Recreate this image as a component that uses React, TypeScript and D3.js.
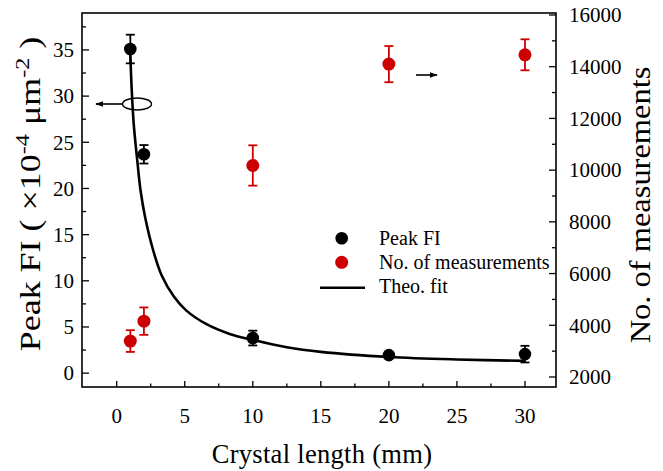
import React from "react";
import * as d3 from "d3";

const crystalLength = [1, 2, 10, 20, 30];
const peakFI = [35.1, 23.7, 3.8, 1.95, 2.06];
const peakFIErr = [1.55, 1.0, 0.8, 0.3, 0.9];
const measurements = [3390, 4160, 10180, 14100, 14460];
const measurementsErr = [420, 530, 780, 700, 600];
const fitX = [1, 1.1, 1.25, 1.5, 1.75, 2.1, 2.7, 3.3, 4.2, 5.1, 6.6, 8.3, 10, 12.5, 15, 20, 25, 30];
const fitY = [34.5, 30.8, 27, 23.2, 19.8, 16.8, 13.2, 10.6, 8.3, 6.8, 5.3, 4.25, 3.6, 2.8, 2.3, 1.75, 1.48, 1.33];
const xTicks = [0, 5, 10, 15, 20, 25, 30];
const yLeftTicks = [0, 5, 10, 15, 20, 25, 30, 35];
const yRightTicks = [2000, 4000, 6000, 8000, 10000, 12000, 14000, 16000];

const W = 663, H = 471;
const L = 82, R = 556, T = 13, B = 387;
const FONT = "Liberation Serif, Times New Roman, Tinos, DejaVu Serif, serif";
const RED = "#cc0000";

export default function App() {
  const x = d3.scaleLinear().domain([-2.55, 32.28]).range([L, R]);
  const yL = d3.scaleLinear().domain([-1.5, 39]).range([B, T]);
  const yR = d3.scaleLinear().domain([1613, 16077]).range([B, T]);

  const xMinor = d3.range(-2.5, 32.3, 2.5).filter((v) => x(v) > L + 1 && x(v) < R - 1);
  const yLMinor = d3.range(0, 39, 2.5).filter((v) => yL(v) > T + 1);
  const yRMinor = d3.range(2000, 16077, 1000);

  const line = d3
    .line<number>()
    .x((_, i) => x(fitX[i]))
    .y((d) => yL(d))
    .curve(d3.curveCatmullRom.alpha(0.5));

  const cap = 4.5;

  return (
    <svg width={W} height={H} style={{ position: "absolute", left: 0, top: 0, fontFamily: FONT }}>
      <defs>
        <marker id="ah" viewBox="0 0 10 10" refX="9" refY="5" markerWidth="8" markerHeight="8" markerUnits="userSpaceOnUse" orient="auto">
          <path d="M0,1.5 L10,5 L0,8.5 Z" fill="#000" />
        </marker>
      </defs>
      <rect x={0} y={0} width={W} height={H} fill="#fff" />
      {/* ticks bottom */}
      {xTicks.map((t) => (
        <g key={"xt" + t}>
          <line x1={x(t)} x2={x(t)} y1={B} y2={B - 6} stroke="#000" strokeWidth={1.3} />
          <text x={x(t)} y={423} fontSize={21} textAnchor="middle">{t}</text>
        </g>
      ))}
      {xMinor.filter((v) => !xTicks.includes(v)).map((t) => (
        <line key={"xm" + t} x1={x(t)} x2={x(t)} y1={B} y2={B - 3.5} stroke="#000" strokeWidth={1.3} />
      ))}
      {/* left ticks */}
      {yLeftTicks.map((t) => (
        <g key={"yl" + t}>
          <line x1={L} x2={L + 7} y1={yL(t)} y2={yL(t)} stroke="#000" strokeWidth={1.3} />
          <text x={74} y={yL(t)} dy="0.35em" fontSize={21} textAnchor="end">{t}</text>
        </g>
      ))}
      {yLMinor.filter((v) => !yLeftTicks.includes(v)).map((t) => (
        <line key={"ylm" + t} x1={L} x2={L + 4} y1={yL(t)} y2={yL(t)} stroke="#000" strokeWidth={1.3} />
      ))}
      {/* right ticks */}
      {yRightTicks.map((t) => (
        <g key={"yr" + t}>
          <line x1={R} x2={R - 7} y1={yR(t)} y2={yR(t)} stroke="#000" strokeWidth={1.3} />
          <text x={569} y={yR(t)} dy="0.35em" fontSize={21} textAnchor="start">{t}</text>
        </g>
      ))}
      {yRMinor.filter((v) => !yRightTicks.includes(v)).map((t) => (
        <line key={"yrm" + t} x1={R} x2={R - 4} y1={yR(t)} y2={yR(t)} stroke="#000" strokeWidth={1.3} />
      ))}
      {/* frame */}
      <rect x={L} y={T} width={R - L} height={B - T} fill="none" stroke="#000" strokeWidth={1.6} />

      {/* fit */}
      <path d={line(fitY) || ""} fill="none" stroke="#000" strokeWidth={2.6} />

      {/* red series */}
      {crystalLength.map((c, i) => {
        const cx = x(c);
        const y0 = yR(measurements[i] - measurementsErr[i]);
        const y1 = yR(measurements[i] + measurementsErr[i]);
        return (
          <g key={"r" + i} stroke={RED} strokeWidth={1.8}>
            <line x1={cx} x2={cx} y1={y0} y2={y1} />
            <line x1={cx - cap} x2={cx + cap} y1={y0} y2={y0} />
            <line x1={cx - cap} x2={cx + cap} y1={y1} y2={y1} />
            <circle cx={cx} cy={yR(measurements[i])} r={6.5} fill={RED} stroke="none" />
          </g>
        );
      })}
      {/* black series */}
      {crystalLength.map((c, i) => {
        const cx = x(c);
        const y0 = yL(peakFI[i] - peakFIErr[i]);
        const y1 = yL(peakFI[i] + peakFIErr[i]);
        return (
          <g key={"b" + i} stroke="#000" strokeWidth={1.8}>
            <line x1={cx} x2={cx} y1={y0} y2={y1} />
            <line x1={cx - cap} x2={cx + cap} y1={y0} y2={y0} />
            <line x1={cx - cap} x2={cx + cap} y1={y1} y2={y1} />
            <circle cx={cx} cy={yL(peakFI[i])} r={6.3} fill="#000" stroke="none" />
          </g>
        );
      })}

      {/* ellipse + left arrow */}
      <ellipse cx={137} cy={104} rx={14.5} ry={6} fill="none" stroke="#000" strokeWidth={1.4} />
      <line x1={122.5} y1={104} x2={96} y2={104} stroke="#000" strokeWidth={1.6} markerEnd="url(#ah)" />
      {/* right arrow */}
      <line x1={416} y1={75} x2={437} y2={75} stroke="#000" strokeWidth={1.6} markerEnd="url(#ah)" />

      {/* legend */}
      <circle cx={341.7} cy={238.3} r={6.3} fill="#000" />
      <circle cx={341.7} cy={262.3} r={6.5} fill={RED} />
      <line x1={320} x2={365} y1={287.7} y2={287.7} stroke="#000" strokeWidth={2.6} />
      <text x={379} y={245} fontSize={20}>Peak FI</text>
      <text x={379} y={269} fontSize={20}>No. of measurements</text>
      <text x={379} y={293} fontSize={20}>Theo. fit</text>

      {/* axis titles */}
      <text x={322} y={463} fontSize={26.5} letterSpacing={0.3} textAnchor="middle">Crystal length (mm)</text>
      <text transform="translate(40,194) rotate(-90) scale(1.24,1)" fontSize={29} textAnchor="middle">
        Peak FI ( ×10<tspan dy={-11} fontSize={19.5}>-4</tspan>
        <tspan dy={11}> μm</tspan>
        <tspan dy={-11} fontSize={19.5}>-2</tspan>
        <tspan dy={11}> )</tspan>
      </text>
      <text transform="translate(650,205) rotate(-90) scale(1.12,1)" fontSize={29} textAnchor="middle">No. of measurements</text>
    </svg>
  );
}
